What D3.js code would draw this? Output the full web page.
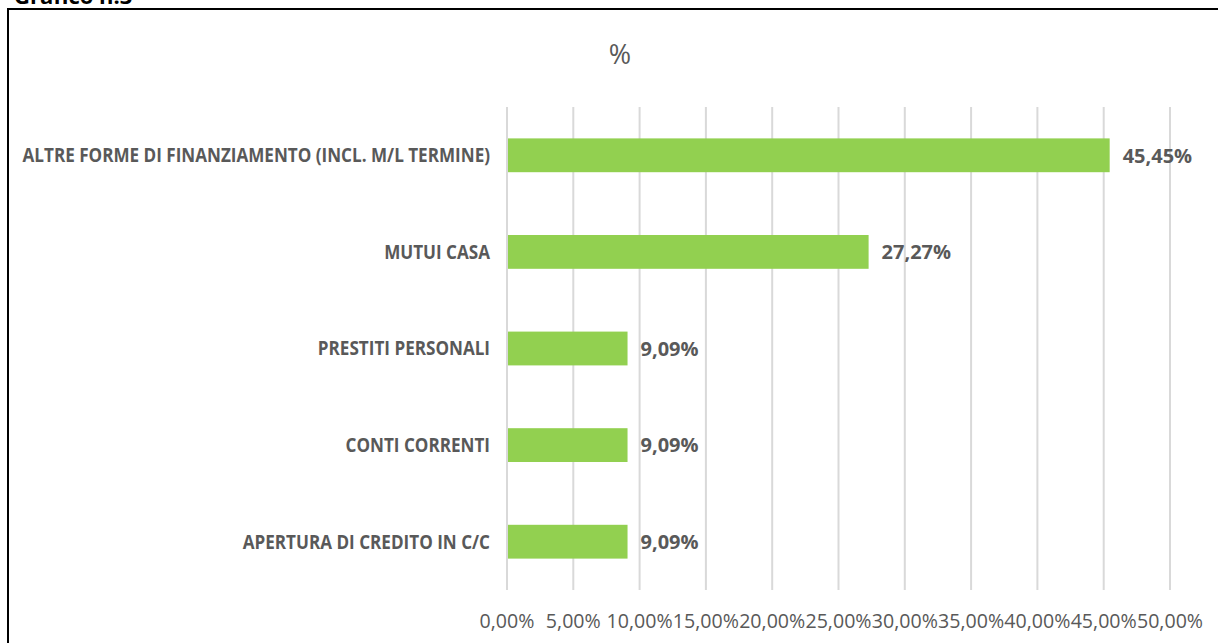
<!DOCTYPE html>
<html>
<head>
<meta charset="utf-8">
<script src="https://cdn.jsdelivr.net/npm/d3@7"></script>
<style>
  body { margin: 0; background: #fff; }
  svg { display: block; }
</style>
</head>
<body>
<svg id="chart"></svg>
<script>
// DATA
let categories = [
    "ALTRE FORME DI FINANZIAMENTO (INCL. M/L TERMINE)",
    "MUTUI CASA",
    "PRESTITI PERSONALI",
    "CONTI CORRENTI",
    "APERTURA DI CREDITO IN C/C"
]
let values = [45.45, 27.27, 9.09, 9.09, 9.09]
let tickValues = [0, 5, 10, 15, 20, 25, 30, 35, 40, 45, 50]
let chartTitle = "%"
let pageCaption = "Grafico n.3"

let fmt = v => v.toFixed(2).replace(".", ",") + "%"

let width = 1218
let height = 643

let svg = d3.select("#chart")
    .attr("width", width)
    .attr("height", height)

let font = "'Open Sans', sans-serif"
let textColor = "#595959"
// the original font is a condensed one, squeeze Open Sans a bit
let squeeze = 0.9

// caption (cut off at the top, as in the original)
svg.append("text")
    .attr("x", 14)
    .attr("y", 4)
    .attr("font-family", font)
    .attr("font-weight", "bold")
    .attr("font-size", 22)
    .attr("fill", "#000")
    .text(pageCaption)

// frame
svg.append("path")
    .attr("d", `M8,${height} L8,9 L${width},9`)
    .attr("fill", "none")
    .attr("stroke", "#000")
    .attr("stroke-width", 2)

let x = d3.scaleLinear().domain([0, 50]).range([507, 1170])
let y = d3.scaleBand()
    .domain(categories)
    .range([107, 590])
    .paddingInner(0.65)
    .paddingOuter(0.325)

// GRIDLINES
svg.append("g")
    .selectAll("line")
    .data(tickValues)
    .enter()
    .append("line")
        .attr("x1", d => x(d))
        .attr("x2", d => x(d))
        .attr("y1", 107)
        .attr("y2", 590)
        .attr("stroke", "#d9d9d9")
        .attr("stroke-width", 2)

// X AXIS TICK LABELS
svg.append("g")
    .selectAll("text")
    .data(tickValues)
    .enter()
    .append("text")
        .attr("transform", d => `translate(${x(d)},628) scale(0.98,1)`)
        .attr("text-anchor", "middle")
        .attr("font-family", font)
        .attr("font-size", 20)
        .attr("fill", textColor)
        .text(d => fmt(d))

// BARS
svg.append("g")
    .selectAll("rect")
    .data(values)
    .enter()
    .append("rect")
        .attr("x", x(0) + 1)
        .attr("y", (d, i) => y(categories[i]))
        .attr("width", d => x(d) - x(0) - 1)
        .attr("height", y.bandwidth())
        .attr("fill", "#92d050")

// CATEGORY LABELS
svg.append("g")
    .selectAll("text")
    .data(categories)
    .enter()
    .append("text")
        .attr("transform", d => `translate(490,${y(d) + y.bandwidth() / 2}) scale(${squeeze},1)`)
        .attr("dy", "0.36em")
        .attr("text-anchor", "end")
        .attr("font-family", font)
        .attr("font-weight", "bold")
        .attr("font-size", 19)
        .attr("fill", textColor)
        .text(d => d)

// VALUE LABELS
svg.append("g")
    .selectAll("text")
    .data(values)
    .enter()
    .append("text")
        .attr("transform", (d, i) => `translate(${x(d) + 13},${y(categories[i]) + y.bandwidth() / 2})`)
        .attr("dy", "0.36em")
        .attr("font-family", font)
        .attr("font-weight", "bold")
        .attr("font-size", 20)
        .attr("fill", textColor)
        .text(d => fmt(d))

// TITLE
svg.append("text")
    .attr("x", 620)
    .attr("y", 64)
    .attr("text-anchor", "middle")
    .attr("font-family", font)
    .attr("font-size", 27)
    .attr("fill", textColor)
    .text(chartTitle)
</script>
</body>
</html>
